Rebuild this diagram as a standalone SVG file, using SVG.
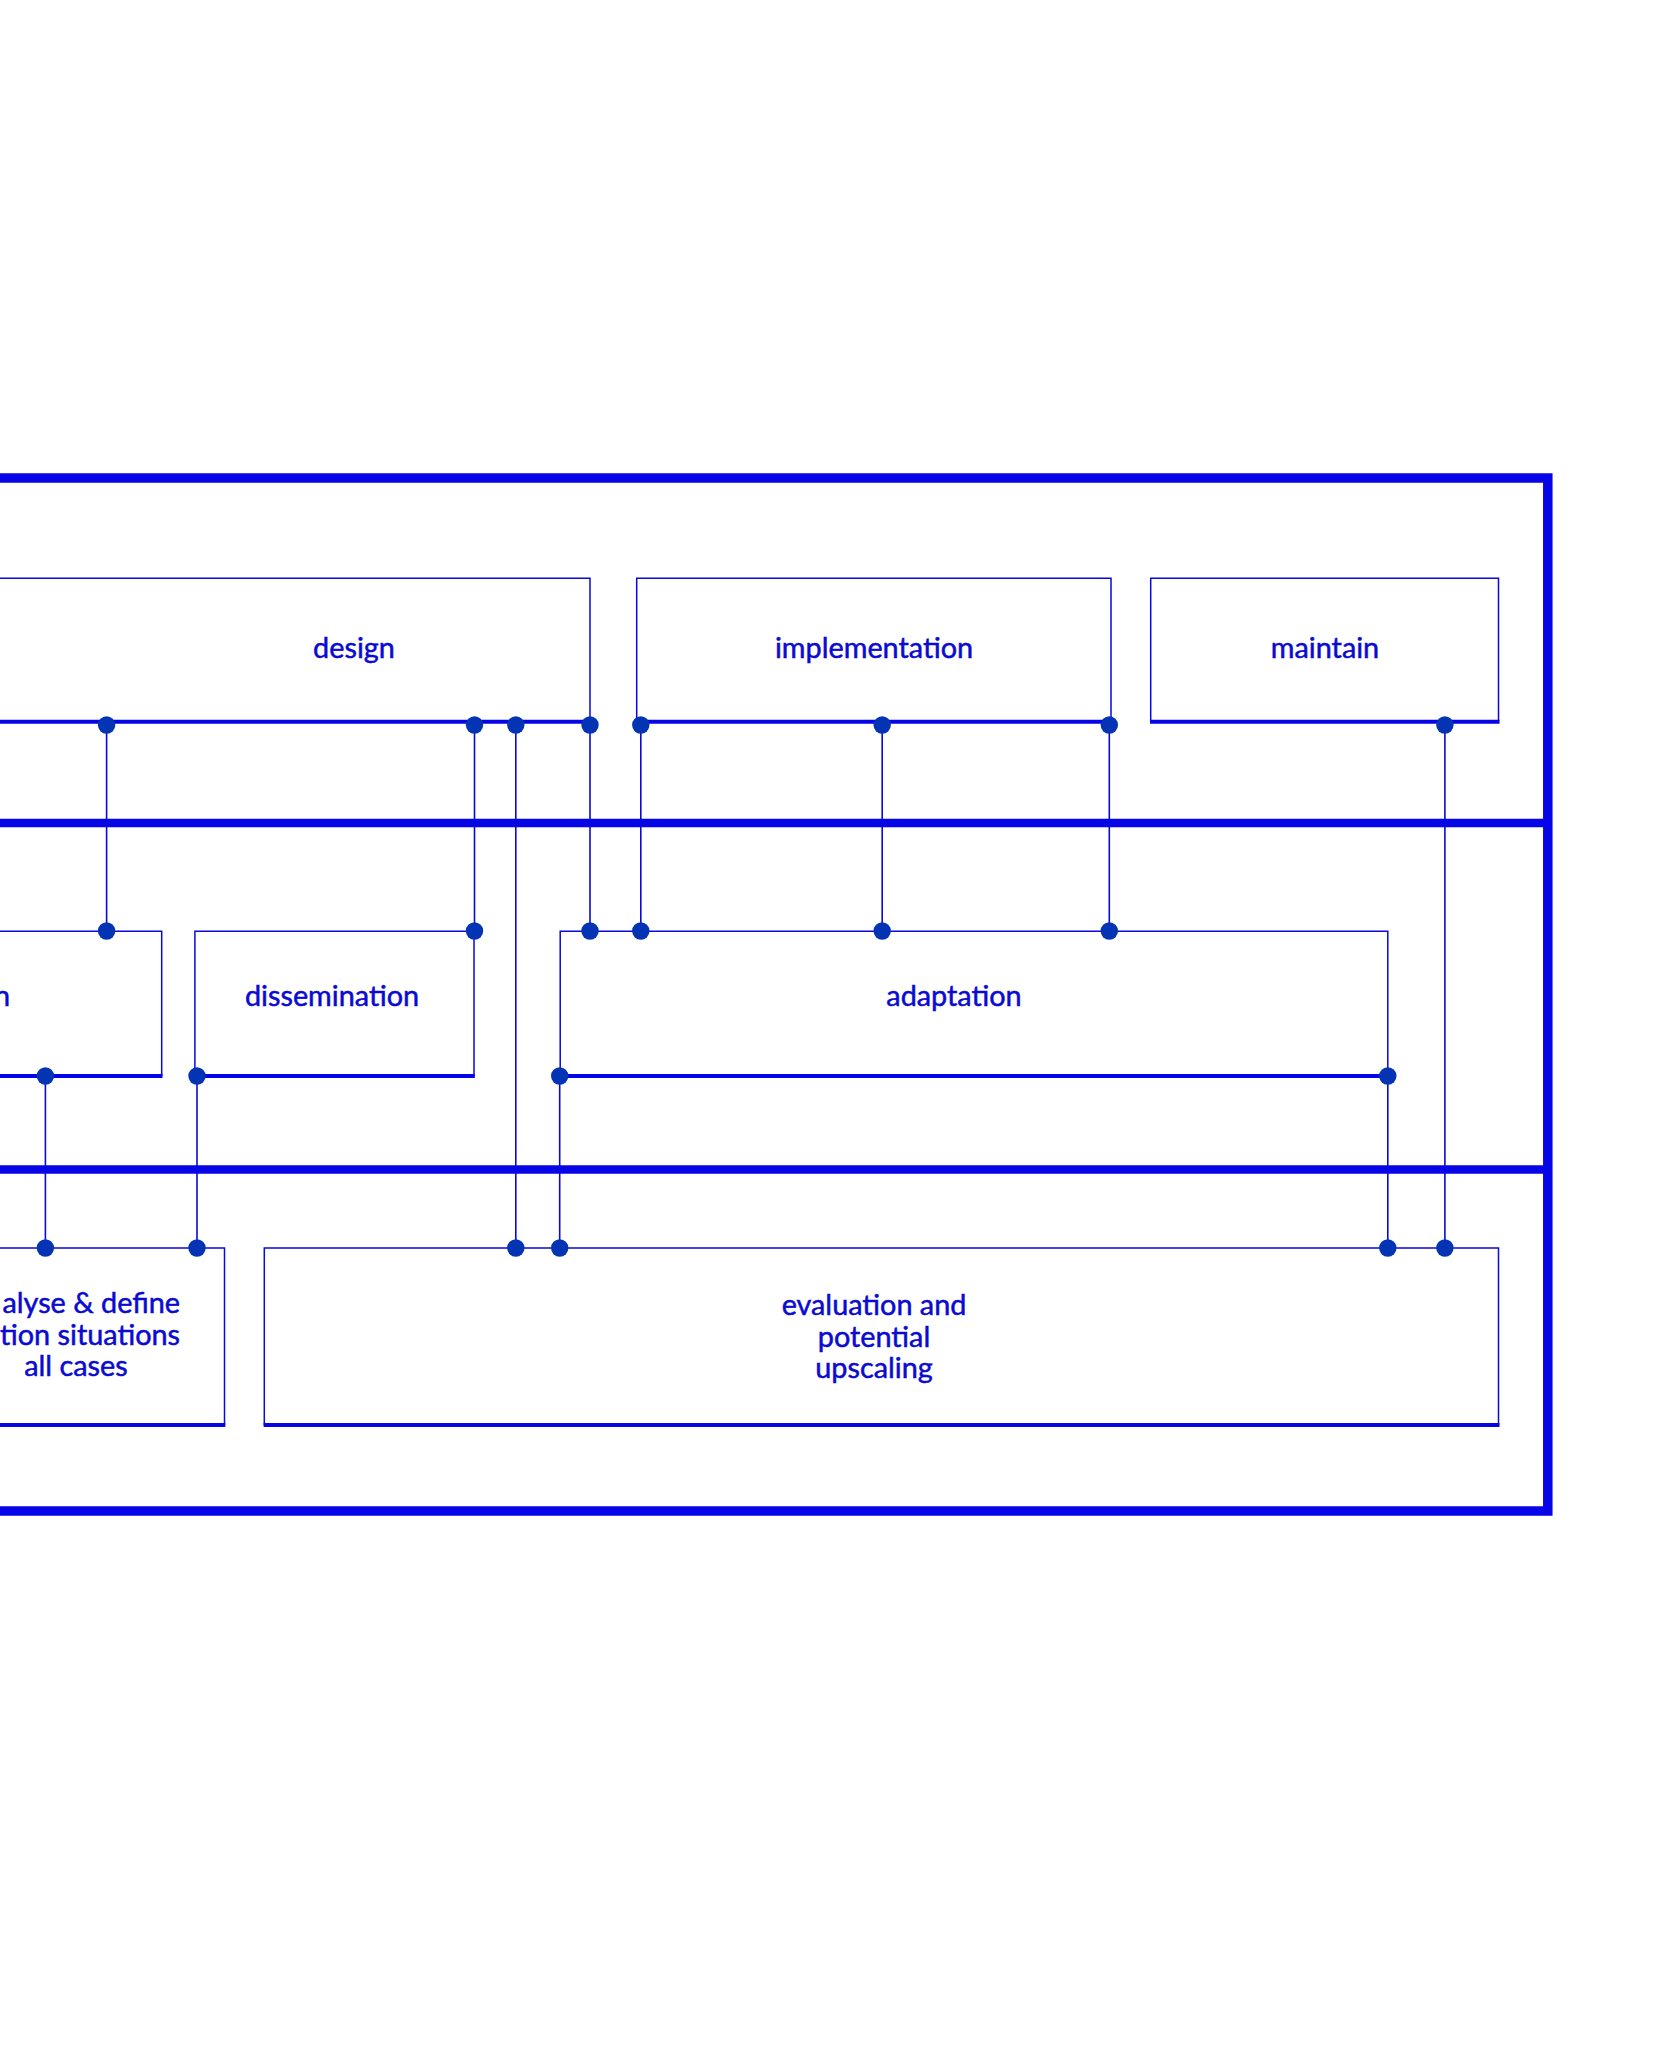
<svg xmlns="http://www.w3.org/2000/svg" width="1677" height="2062" viewBox="0 0 1677 2062">
<style>
.frame{fill:none;stroke:#0505E8;stroke-width:9.5;stroke-linejoin:miter}
.sep{fill:none;stroke:#0505E8;stroke-width:8.5}
.box{fill:none;stroke:#0808E0;stroke-width:1.5}
.base{fill:none;stroke:#0505E8;stroke-width:4}
.con{fill:none;stroke:#0808D8;stroke-width:1.6}
.lbl{font-family:Lato,"Open Sans",sans-serif;font-size:28.8px;fill:#0A0AD2;stroke:#0A0AD2;stroke-width:0.5;text-anchor:middle}
.end{text-anchor:end}
</style>
<defs>
<marker id="dot" markerUnits="userSpaceOnUse" markerWidth="20" markerHeight="20" refX="10" refY="10" viewBox="0 0 20 20">
<circle cx="10" cy="10" r="8.7" fill="#0434B4"/>
</marker>
</defs>
<rect width="1677" height="2062" fill="#FFFFFF"/>
<g id="frame">
<path class="frame" d="M -20 478 H 1547.8 V 1511 H -20"/>
<path class="sep" d="M -20 823 H 1547"/>
<path class="sep" d="M -20 1169.5 H 1547"/>
</g>
<g id="design">
<path class="box" d="M -20 578.3 H 590 V 721.7"/>
<path class="base" d="M -20 721.7 H 590.8"/>
<text class="lbl" x="354" y="658">design</text>
</g>
<g id="implementation">
<path class="box" d="M 636.7 721.7 V 578.3 H 1111 V 721.7"/>
<path class="base" d="M 636 721.7 H 1111.8"/>
<text class="lbl" x="874" y="658">implementation</text>
</g>
<g id="maintain">
<path class="box" d="M 1150.7 721.7 V 578.3 H 1498.5 V 721.7"/>
<path class="base" d="M 1150 721.7 H 1499.5"/>
<text class="lbl" x="1325" y="658">maintain</text>
</g>
<g id="row2-left">
<path class="box" d="M -20 931.3 H 161.7 V 1076"/>
<path class="base" d="M -20 1076 H 162.5"/>
<text class="lbl end" x="10" y="1006">n</text>
</g>
<g id="dissemination">
<path class="box" d="M 194.9 1076 V 931.3 H 474 V 1076"/>
<path class="base" d="M 194.2 1076 H 474.8"/>
<text class="lbl" x="332" y="1006">dissemination</text>
</g>
<g id="adaptation">
<path class="box" d="M 560.2 1076 V 931.3 H 1387.8 V 1076"/>
<path class="base" d="M 559.5 1076 H 1388.5"/>
<text class="lbl" x="954" y="1006">adaptation</text>
</g>
<g id="analyse">
<path class="box" d="M -20 1248 H 224.5 V 1425"/>
<path class="base" d="M -20 1425 H 225.3"/>
<text class="lbl end" x="180" y="1313">alyse &amp; define</text>
<text class="lbl end" x="180" y="1344.5">tion situations</text>
<text class="lbl" x="76" y="1376">all cases</text>
</g>
<g id="evaluation">
<path class="box" d="M 264.3 1425 V 1248 H 1498.5 V 1425"/>
<path class="base" d="M 263.6 1425 H 1499.5"/>
<text class="lbl" x="874" y="1315">evaluation and</text>
<text class="lbl" x="874" y="1346.5">potential</text>
<text class="lbl" x="874" y="1378">upscaling</text>
</g>
<g id="connectors">
<path class="con" d="M 106.6 725 V 931" marker-start="url(#dot)" marker-end="url(#dot)"/>
<path class="con" d="M 474.5 725 V 931" marker-start="url(#dot)" marker-end="url(#dot)"/>
<path class="con" d="M 515.8 725 V 1248" marker-start="url(#dot)" marker-end="url(#dot)"/>
<path class="con" d="M 590 725 V 931" marker-start="url(#dot)" marker-end="url(#dot)"/>
<path class="con" d="M 640.8 725 V 931" marker-start="url(#dot)" marker-end="url(#dot)"/>
<path class="con" d="M 882.2 725 V 931" marker-start="url(#dot)" marker-end="url(#dot)"/>
<path class="con" d="M 1109.3 725 V 931" marker-start="url(#dot)" marker-end="url(#dot)"/>
<path class="con" d="M 1444.9 725 V 1248" marker-start="url(#dot)" marker-end="url(#dot)"/>
<path class="con" d="M 45.4 1076 V 1248" marker-start="url(#dot)" marker-end="url(#dot)"/>
<path class="con" d="M 197 1076 V 1248" marker-start="url(#dot)" marker-end="url(#dot)"/>
<path class="con" d="M 559.7 1076 V 1248" marker-start="url(#dot)" marker-end="url(#dot)"/>
<path class="con" d="M 1387.8 1076 V 1248" marker-start="url(#dot)" marker-end="url(#dot)"/>
</g>
</svg>
